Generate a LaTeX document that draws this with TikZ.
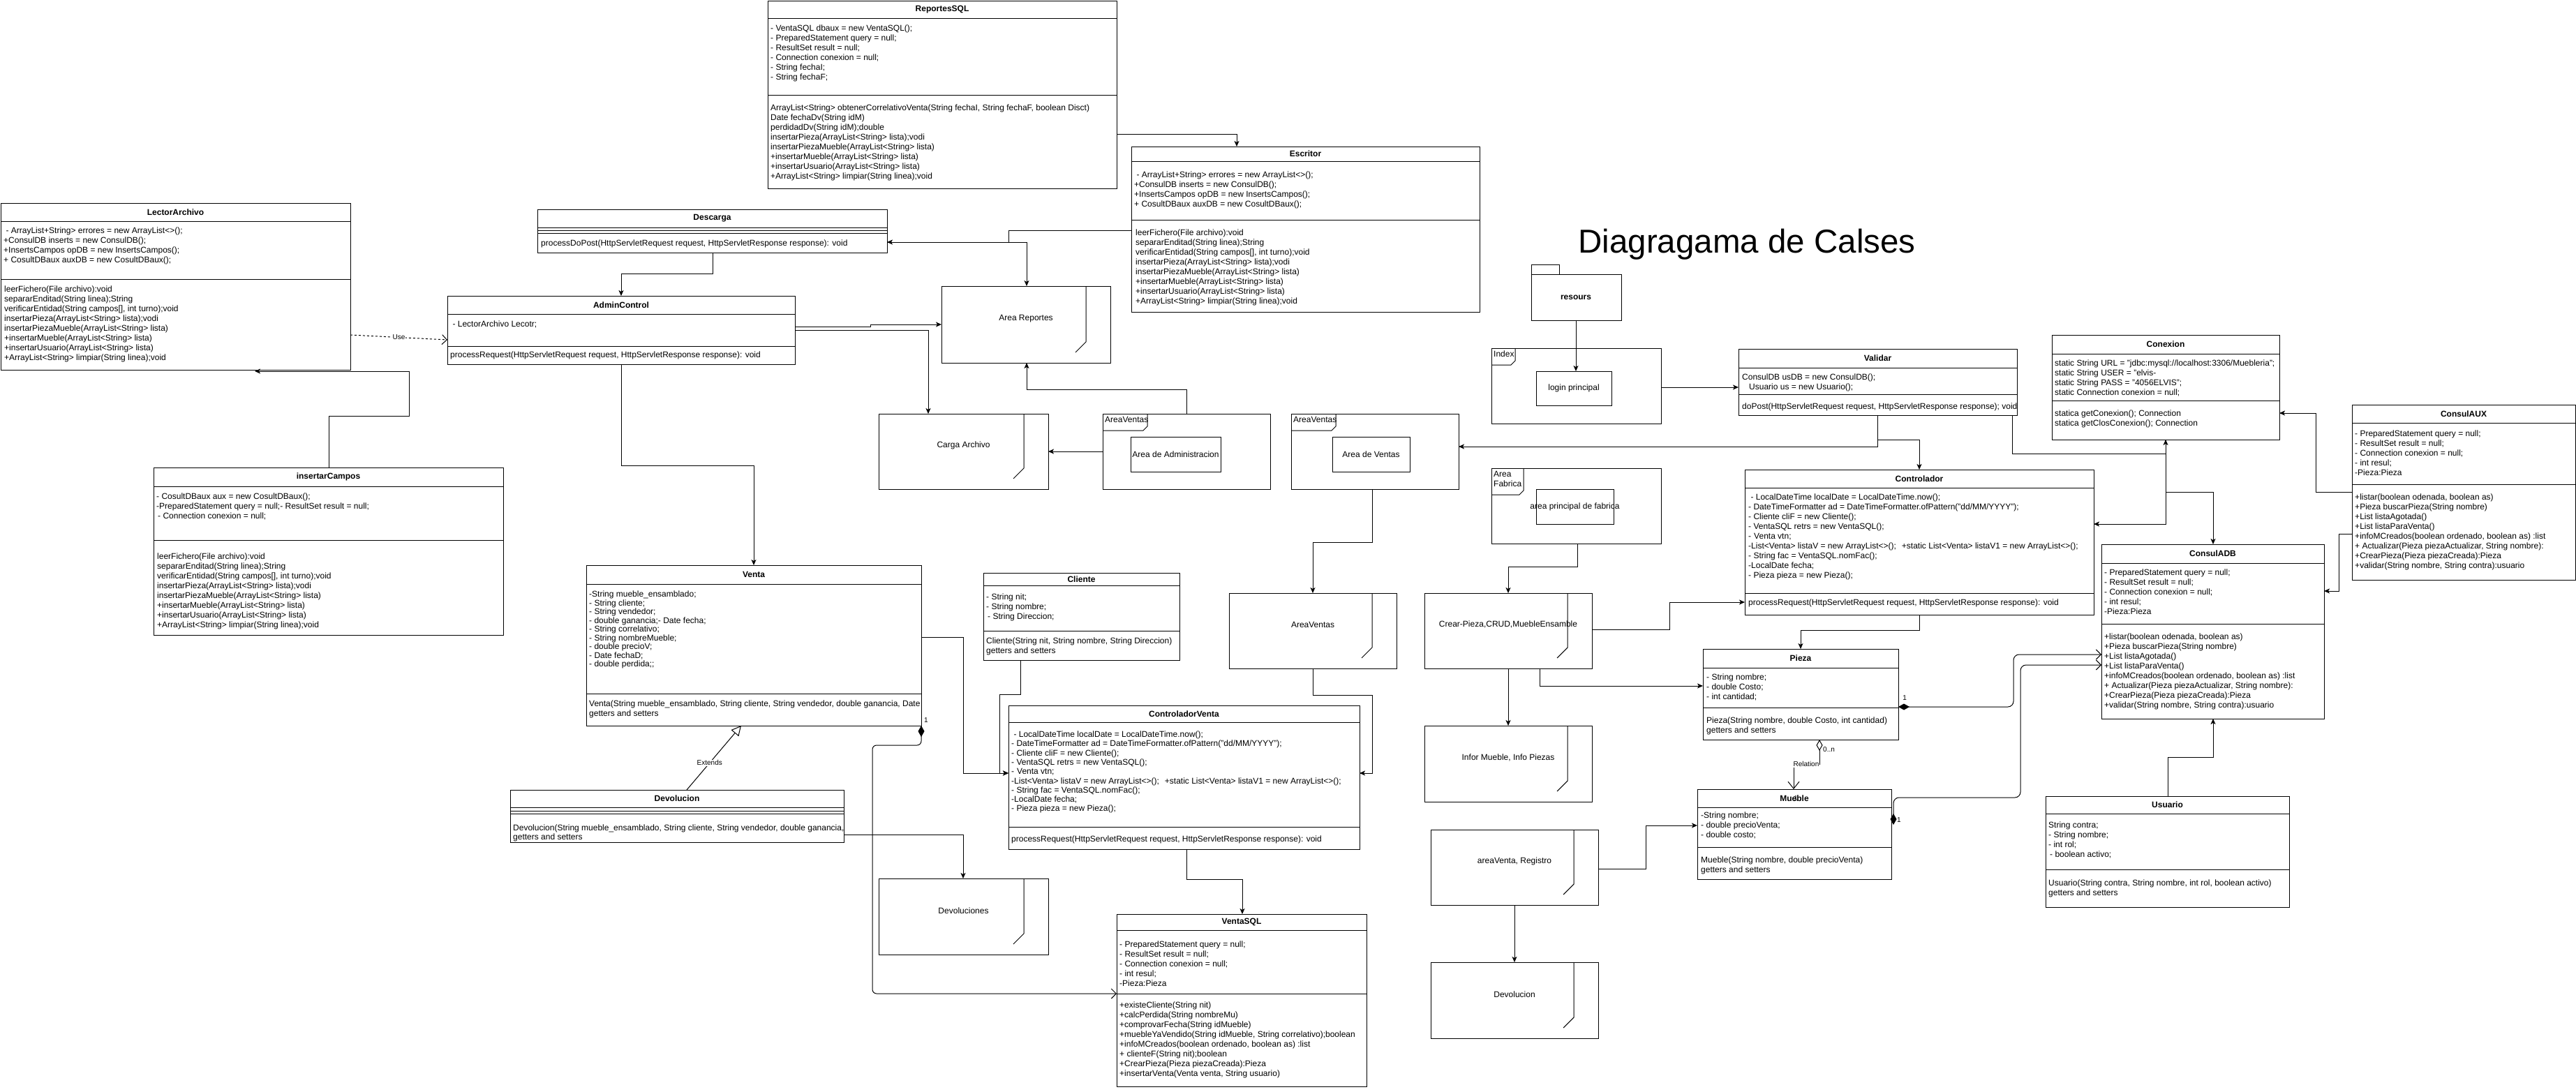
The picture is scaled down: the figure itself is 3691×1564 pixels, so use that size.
\documentclass[tikz,border=0pt]{standalone}
\usepackage{fontspec}
\setmainfont{Liberation Sans}
\usetikzlibrary{arrows.meta}
\newcommand\umlclass[8]{%
  \node[box, minimum width={#4-#2}, minimum height={#5-#3}] (#1) at (#2,#3) {};
  \node[ttl] (#1-t) at ({(#2+#4)/2},{(#3+#6)/2}) {#8};
  \draw[ln] (#2,#6) -- (#4,#6);
  \draw[ln] (#2,#7) -- (#4,#7);
}
\newcommand\comp[4]{\node[cmp] (#1) at (#2,{#3-4.7}) {\rule{0pt}{9pt}#4};}
\newcommand\compl[5]{\node[cmp, font=\fontsize{12}{#5}\selectfont] (#1) at (#2,{#3-4.7}) {\rule{0pt}{9pt}#4};}
\newcommand\docshape[6]{%
  \node[box, minimum width={#4-#2}, minimum height={#5-#3}] (#1) at (#2,#3) {};
  \draw[ln] ({#4-35},#3) -- ({#4-35},{#5-30}) -- ({#4-50},{#5-15});
  \node[lbl] (#1-l) at ({(#2+#4)/2},{#3+0.42*(#5-#3)}) {#6};
}
\newcommand\frameshape[8]{%
  \node[box, minimum width={#4-#2}, minimum height={#5-#3}] (#1) at (#2,#3) {};
  \draw[ln] (#2,{#3+#8}) -- ({#2+#7-6},{#3+#8}) -- ({#2+#7},{#3+#8-6}) -- ({#2+#7},#3);
  \node[lbl, anchor=north west, align=left] (#1-tab) at ({#2+3},{#3+4}) {#6};
}
\newcommand\innerbox[6]{%
  \node[box, minimum width={#4-#2}, minimum height={#5-#3}] (#1) at (#2,#3) {};
  \node[lbl] (#1-l) at ({(#2+#4)/2},{(#3+#5)/2}) {#6};
}
\begin{document}
\begin{tikzpicture}[x=1pt, y=-1pt,
  ln/.style={line width=1pt},
  box/.style={draw, line width=1pt, fill=white, inner sep=0pt, outer sep=0pt, anchor=north west},
  ttl/.style={font=\fontsize{12}{14}\selectfont\bfseries, inner sep=0pt},
  cmp/.style={anchor=north west, align=left, inner sep=0pt, font=\fontsize{12}{14}\selectfont},
  lbl/.style={font=\fontsize{12}{14}\selectfont, inner sep=0pt, align=center},
  arr/.style={line width=1pt, -{Stealth[length=8pt,width=7pt,inset=2pt]}},
  oarr/.style={line width=1pt, -{Straight Barb[length=7pt,width=14pt]}},
  tag/.style={font=\fontsize{10}{12}\selectfont, inner sep=1pt, fill=white}]
\useasboundingbox[fill=white] (0,0) rectangle (3691,1564);

% ---------------- classes ----------------
\umlclass{RSQL}{1100}{1}{1600}{270}{26}{136}{ReportesSQL}
\comp{RSQL-a}{1104}{40}{- VentaSQL dbaux = new VentaSQL();\\- PreparedStatement query = null;\\- ResultSet result = null;\\- Connection conexion = null;\\- String fechaI;\\- String fechaF;}
\comp{RSQL-m}{1104}{154}{ArrayList<String> obtenerCorrelativoVenta(String fechaI, String fechaF, boolean Disct)\\Date fechaDv(String idM)\\perdidadDv(String idM);double\\insertarPieza(ArrayList<String> lista);vodi\\insertarPiezaMueble(ArrayList<String> lista)\\+insertarMueble(ArrayList<String> lista)\\+insertarUsuario(ArrayList<String> lista)\\+ArrayList<String> limpiar(String linea);void}

\umlclass{ESC}{1621}{210}{2120}{447}{231}{315}{Escritor}
\comp{ESC-a}{1625}{250}{ - ArrayList+String> errores = new ArrayList<>();\\+ConsulDB inserts = new ConsulDB();\\+InsertsCampos opDB = new InsertsCampos();\\+ CosultDBaux auxDB = new CosultDBaux();}
\comp{ESC-m}{1627}{333}{leerFichero(File archivo):void\\separarEnditad(String linea);String\\verificarEntidad(String campos[], int turno);void\\insertarPieza(ArrayList<String> lista);vodi\\insertarPiezaMueble(ArrayList<String> lista)\\+insertarMueble(ArrayList<String> lista)\\+insertarUsuario(ArrayList<String> lista)\\+ArrayList<String> limpiar(String linea);void}

\umlclass{LEC}{1}{291}{502}{530}{317}{400}{LectorArchivo}
\comp{LEC-a}{5}{330}{ - ArrayList+String> errores = new ArrayList<>();\\+ConsulDB inserts = new ConsulDB();\\+InsertsCampos opDB = new InsertsCampos();\\+ CosultDBaux auxDB = new CosultDBaux();}
\comp{LEC-m}{6}{414}{leerFichero(File archivo):void\\separarEnditad(String linea);String\\verificarEntidad(String campos[], int turno);void\\insertarPieza(ArrayList<String> lista);vodi\\insertarPiezaMueble(ArrayList<String> lista)\\+insertarMueble(ArrayList<String> lista)\\+insertarUsuario(ArrayList<String> lista)\\+ArrayList<String> limpiar(String linea);void}

\umlclass{DES}{770}{300}{1271}{362}{326}{330}{Descarga}
\draw[ln] (770,334) -- (1271,334);
\comp{DES-m}{775}{348}{processDoPost(HttpServletRequest request, HttpServletResponse response): void}

\umlclass{ADM}{641}{424}{1139}{522}{450}{496}{AdminControl}
\comp{ADM-a}{645}{464}{ - LectorArchivo Lecotr;}
\comp{ADM-m}{645}{508}{processRequest(HttpServletRequest request, HttpServletResponse response): void}

\umlclass{INS}{220}{670}{721}{910}{697}{774}{insertarCampos}
\comp{INS-a}{224}{711}{- CosultDBaux aux = new CosultDBaux();\\-PreparedStatement query = null;- ResultSet result = null;\\ \hspace{2pt}- Connection conexion = null;}
\comp{INS-m}{225}{797}{leerFichero(File archivo):void\\separarEnditad(String linea);String\\verificarEntidad(String campos[], int turno);void\\insertarPieza(ArrayList<String> lista);vodi\\insertarPiezaMueble(ArrayList<String> lista)\\+insertarMueble(ArrayList<String> lista)\\+insertarUsuario(ArrayList<String> lista)\\+ArrayList<String> limpiar(String linea);void}

\umlclass{VEN}{840}{810}{1320}{1040}{837}{994}{Venta}
\compl{VEN-a}{844}{851}{-String mueble\_ensamblado;\\- String cliente;\\- String vendedor;\\- double ganancia;- Date fecha;\\- String correlativo;\\- String nombreMueble;\\- double precioV;\\- Date fechaD;\\- double perdida;;}{12.5}
\compl{VEN-m}{844}{1008}{Venta(String mueble\_ensamblado, String cliente, String vendedor, double ganancia, Date\\getters and setters}{13.5}

\umlclass{CLI}{1409}{821}{1690}{946}{839}{904}{Cliente}
\comp{CLI-a}{1413}{855}{- String nit;\\- String nombre;\\ \hspace{2pt}- String Direccion;}
\comp{CLI-m}{1413}{918}{Cliente(String nit, String nombre, String Direccion)\\getters and setters}

\umlclass{DEVO}{731}{1132}{1209}{1207}{1157}{1162}{Devolucion}
\draw[ln] (731,1166) -- (1209,1166);
\compl{DEVO-m}{735}{1186}{Devolucion(String mueble\_ensamblado, String cliente, String vendedor, double ganancia,\\getters and setters}{12.5}

\umlclass{CV}{1445}{1011}{1948}{1217}{1035}{1185}{ControladorVenta}
\compl{CV-a}{1449}{1052}{ - LocalDateTime localDate = LocalDateTime.now();\\ - DateTimeFormatter ad = DateTimeFormatter.ofPattern("dd/MM/YYYY");\\ - Cliente cliF = new Cliente();\\- VentaSQL retrs = new VentaSQL();\\ -\hspace{4pt}Venta vtn;\\-List<Venta> listaV = new ArrayList<>();\hspace{8pt}+static List<Venta> listaV1 = new ArrayList<>();\\- String fac = VentaSQL.nomFac();\\ -LocalDate fecha;\\- Pieza pieza = new Pieza();}{13.3}
\comp{CV-m}{1449}{1202}{processRequest(HttpServletRequest request, HttpServletResponse response): void}

\umlclass{VSQL}{1600}{1310}{1958}{1557}{1333}{1424}{VentaSQL}
\comp{VSQL-a}{1604}{1353}{- PreparedStatement query = null;\\- ResultSet result = null;\\- Connection conexion = null;\\- int resul;\\-Pieza:Pieza}
\comp{VSQL-m}{1604}{1440}{+existeCliente(String nit)\\+calcPerdida(String nombreMu)\\+comprovarFecha(String idMueble)\\+muebleYaVendido(String idMueble, String correlativo);boolean\\+infoMCreados(boolean ordenado, boolean as) :list\\+ clienteF(String nit);boolean\\+CrearPieza(Pieza piezaCreada):Pieza\\+insertarVenta(Venta venta, String usuario)}

\umlclass{VAL}{2491}{500}{2890}{595}{527}{565}{Validar}
\comp{VAL-a}{2496}{540}{ConsulDB usDB = new ConsulDB();\\ \hspace{10pt}Usuario us = new Usuario();}
\comp{VAL-m}{2496}{582}{doPost(HttpServletRequest request, HttpServletResponse response); void}

\umlclass{CTRL}{2500}{673}{3000}{881}{699}{850}{Controlador}
\comp{CTRL-a}{2505}{712}{ - LocalDateTime localDate = LocalDateTime.now();\\ - DateTimeFormatter ad = DateTimeFormatter.ofPattern("dd/MM/YYYY");\\ - Cliente cliF = new Cliente();\\- VentaSQL retrs = new VentaSQL();\\ -\hspace{4pt}Venta vtn;\\-List<Venta> listaV = new ArrayList<>();\hspace{8pt}+static List<Venta> listaV1 = new ArrayList<>();\\- String fac = VentaSQL.nomFac();\\ -LocalDate fecha;\\- Pieza pieza = new Pieza();}
\comp{CTRL-m}{2505}{863}{processRequest(HttpServletRequest request, HttpServletResponse response): void}

\umlclass{CON}{2940}{480}{3266}{630}{507}{574}{Conexion}
\comp{CON-a}{2944}{520}{static String URL = "jdbc:mysql://localhost:3306/Muebleria";\\static String USER = "elvis-\\static String PASS = "4056ELVIS";\\static Connection conexion = null;}
\comp{CON-m}{2944}{592}{statica getConexion(); Connection\\statica getClosConexion(); Connection}

\umlclass{CAUX}{3370}{580}{3690}{831}{606}{694}{ConsulAUX}
\comp{CAUX-a}{3374}{621}{- PreparedStatement query = null;\\- ResultSet result = null;\\- Connection conexion = null;\\- int resul;\\-Pieza:Pieza}
\comp{CAUX-m}{3374}{712}{+listar(boolean odenada, boolean as)\\+Pieza buscarPieza(String nombre)\\+List listaAgotada()\\+List listaParaVenta()\\+infoMCreados(boolean ordenado, boolean as) :list\\+ Actualizar(Pieza piezaActualizar, String nombre):\\+CrearPieza(Pieza piezaCreada):Pieza\\+validar(String nombre, String contra):usuario}

\umlclass{CADB}{3011}{780}{3330}{1030}{807}{894}{ConsulADB}
\comp{CADB-a}{3015}{820}{- PreparedStatement query = null;\\- ResultSet result = null;\\- Connection conexion = null;\\- int resul;\\-Pieza:Pieza}
\comp{CADB-m}{3015}{912}{+listar(boolean odenada, boolean as)\\+Pieza buscarPieza(String nombre)\\+List listaAgotada()\\+List listaParaVenta()\\+infoMCreados(boolean ordenado, boolean as) :list\\+ Actualizar(Pieza piezaActualizar, String nombre):\\+CrearPieza(Pieza piezaCreada):Pieza\\+validar(String nombre, String contra):usuario}

\umlclass{USU}{2931}{1141}{3280}{1300}{1166}{1246}{Usuario}
\comp{USU-a}{2935}{1182}{String contra;\\- String nombre;\\- int rol;\\ \hspace{2pt}- boolean activo;}
\comp{USU-m}{2935}{1265}{Usuario(String contra, String nombre, int rol, boolean activo)\\getters and setters}

\umlclass{PIE}{2440}{930}{2720}{1060}{957}{1014}{Pieza}
\comp{PIE-a}{2445}{970}{- String nombre;\\- double Costo;\\- int cantidad;}
\comp{PIE-m}{2445}{1032}{Pieza(String nombre, double Costo, int cantidad)\\getters and setters}

\umlclass{MUE}{2432}{1131}{2710}{1260}{1157}{1214}{Mueble}
\comp{MUE-a}{2437}{1168}{-String nombre;\\- double precioVenta;\\- double costo;}
\comp{MUE-m}{2437}{1232}{Mueble(String nombre, double precioVenta)\\getters and setters}

% ---------------- other shapes ----------------
\docshape{AR}{1349}{410}{1591}{520}{Area Reportes}
\docshape{CA}{1259}{593}{1502}{701}{Carga Archivo}
\docshape{DVS}{1259}{1259}{1502}{1368}{Devoluciones}
\docshape{AV}{1761}{850}{2001}{958}{AreaVentas}
\docshape{CP}{2041}{850}{2281}{958}{Crear-Pieza,CRUD,MuebleEnsamble}
\docshape{IM}{2041}{1040}{2281}{1149}{Infor Mueble, Info Piezas}
\docshape{AVR}{2050}{1189}{2290}{1297}{areaVenta, Registro}
\docshape{DV2}{2050}{1379}{2290}{1488}{Devolucion}

\frameshape{F1}{1580}{593}{1820}{701}{AreaVentas}{64}{24}
\innerbox{F1i}{1620}{626}{1749}{676}{Area de Administracion}
\frameshape{F2}{1850}{593}{2090}{701}{AreaVentas}{64}{24}
\innerbox{F2i}{1909}{626}{2020}{676}{Area de Ventas}
\frameshape{F3}{2137}{499}{2380}{607}{Index}{34}{24}
\innerbox{F3i}{2201}{532}{2309}{581}{login principal}
\frameshape{F4}{2137}{671}{2380}{779}{Area\\Fabrica}{46}{38}
\innerbox{F4i}{2201}{701}{2312}{751}{area principal de fabrica}

\node[box, minimum width=40, minimum height=14] (REStab) at (2194,379) {};
\node[box, minimum width=129, minimum height=66] (RES) at (2194,393) {};
\node[ttl] (RES-l) at (2258,426) {resours};

\node[font=\fontsize{47.5}{50}\selectfont, inner sep=0pt] (TITLE) at (2503,350) {Diagragama de Calses};

% ---------------- connectors ----------------
\draw[arr] (RSQL.east |- 0,192) -- (1772,192) -- (1772,0 |- ESC.north);
\draw[arr] (ESC.west |- 0,330) -- (1445,330) -- (1445,347) -- (DES.east |- 0,347);
\draw[arr] (DES.east |- 0,347) -- (1471,347) -- (1471,0 |- AR.north);
\draw[arr] (1021,0 |- DES.south) -- (1021,392) -- (890,392) -- (890,0 |- ADM.north);
\draw[arr] (ADM.east |- 0,468) -- (1247,468) -- (1247,465) -- (AR.west |- 0,465);
\draw[arr] (ADM.east |- 0,473) -- (1330,473) -- (1330,0 |- CA.north);
\draw[oarr, dashed] (LEC.east |- 0,480) -- node[tag] (USE) {Use} (ADM.west |- 0,487);
\draw[arr] (471,0 |- INS.north) -- (471,596) -- (586,596) -- (586,532) -- (365,532);
\draw[arr] (890,0 |- ADM.south) -- (890,667) -- (1080,667) -- (1080,0 |- VEN.north);
\draw[arr] (VEN.east |- 0,913) -- (1380,913) -- (1380,1108) -- (CV.west |- 0,1108);
\draw[arr] (1462,0 |- CLI.south) -- (1462,995) -- (1432,995) -- (1432,1108) -- (CV.west |- 0,1108);
\draw[arr] (DEVO.east |- 0,1196) -- (1380,1196) -- (1380,0 |- DVS.north);
\draw[ln, {Diamond[length=16pt,width=9pt]}-{Straight Barb[length=7pt,width=14pt]}, rounded corners=6pt] (VEN.south east) -- (1320,1068) -- (1250,1068) -- (1250,1424) -- (VSQL.west |- 0,1424);
\node[tag, fill=none] (ONE1) at (1327,1032) {1};
\draw[ln, -{Triangle[open,length=14pt,width=14pt]}] (984,0 |- DEVO.north) -- node[tag, pos=0.42] (EXT) {Extends} (1062,0 |- VEN.south);
\draw[arr] (1700,0 |- CV.south) -- (1700,1260) -- (1780,1260) -- (1780,0 |- VSQL.north);
\draw[arr] (1881,0 |- AV.south) -- (1881,996) -- (1966,996) -- (1966,1108) -- (CV.east |- 0,1108);
\draw[arr] (1966,0 |- F2.south) -- (1966,777) -- (1881,777) -- (1881,0 |- AV.north);
\draw[arr] (1700,0 |- F1.north) -- (1700,558) -- (1471,558) -- (1471,0 |- AR.south);
\draw[arr] (F1.west |- 0,647) -- (CA.east |- 0,647);
\draw[arr] (F3.east |- 0,555) -- (VAL.west |- 0,555);
\draw[arr] (2258,0 |- RES.south) -- (2258,0 |- F3i.north);
\draw[arr] (2690,0 |- VAL.south) -- (2690,630) -- (2750,630) -- (2750,0 |- CTRL.north);
\draw[arr] (2690,0 |- VAL.south) -- (2690,640) -- (F2.east |- 0,640);
\draw[arr] (2883,0 |- VAL.south) -- (2883,650) -- (3103,650) -- (3103,0 |- CON.south);
\draw[arr] (3103,0 |- CON.south) -- (3103,751) -- (CTRL.east |- 0,751);
\draw[arr] (3103,705) -- (3171,705) -- (3171,0 |- CADB.north);
\draw[arr] (CAUX.west |- 0,705) -- (3318,705) -- (3318,592) -- (CON.east |- 0,592);
\draw[arr] (CAUX.west |- 0,765) -- (3351,765) -- (3351,847) -- (CADB.east |- 0,847);
\draw[arr] (3106,0 |- USU.north) -- (3106,1085) -- (3171,1085) -- (3171,0 |- CADB.south);
\draw[arr] (2750,0 |- CTRL.south) -- (2750,903) -- (2580,903) -- (2580,0 |- PIE.north);
\draw[ln, {Diamond[open,length=16pt,width=9pt]}-{Straight Barb[length=10pt,width=16pt]}] (2607,0 |- PIE.south) -- (2607,1095) -- (2570,1095) -- (2570,0 |- MUE.north);
\node[tag] (REL) at (2588,1095) {Relation};
\node[tag, fill=none, anchor=west] (ZN) at (2611,1074) {0..n};
\node[tag, fill=none] (ONE2) at (2573,1144) {1};
\draw[ln, {Diamond[length=16pt,width=9pt]}-{Straight Barb[length=7pt,width=14pt]}, rounded corners=8pt] (PIE.east |- 0,1013) -- (2885,1013) -- (2885,938) -- (CADB.west |- 0,938);
\node[tag, fill=none] (ONE3) at (2729,1000) {1};
\draw[ln, {Diamond[length=16pt,width=9pt]}-{Straight Barb[length=7pt,width=14pt]}, rounded corners=8pt] (2713,1182) -- (2713,1143) -- (2895,1143) -- (2895,953) -- (CADB.west |- 0,953);
\node[tag, fill=none, anchor=west] (ONE4) at (2717,1175) {1};
\draw[arr] (2260,0 |- F4.south) -- (2260,812) -- (2161,812) -- (2161,0 |- CP.north);
\draw[arr] (CP.east |- 0,902) -- (2392,902) -- (2392,863) -- (CTRL.west |- 0,863);
\draw[arr] (2161,0 |- CP.south) -- (2161,0 |- IM.north);
\draw[arr] (2206,0 |- CP.south) -- (2206,983) -- (PIE.west |- 0,983);
\draw[arr] (2170,0 |- AVR.south) -- (2170,0 |- DV2.north);
\draw[arr] (AVR.east |- 0,1245) -- (2358,1245) -- (2358,1183) -- (MUE.west |- 0,1183);
\end{tikzpicture}
\end{document}
